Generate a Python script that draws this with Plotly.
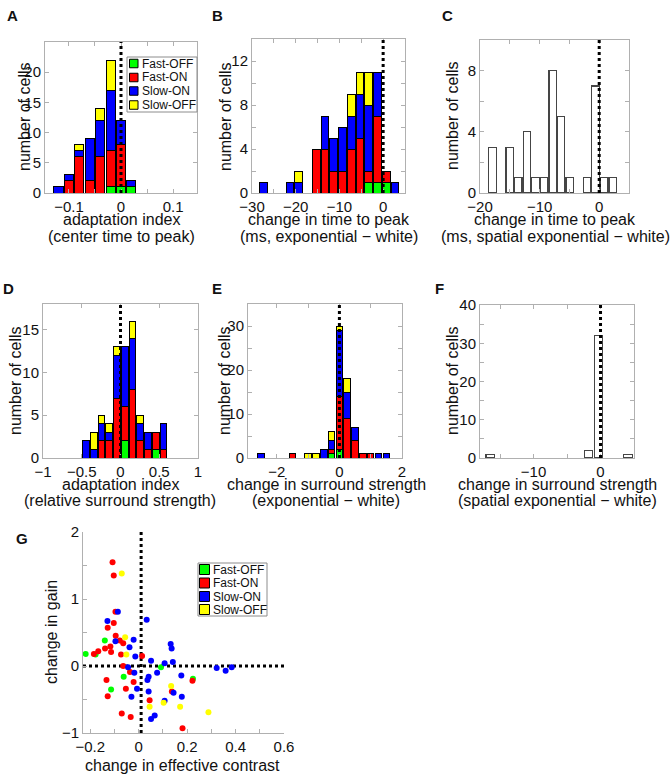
import plotly.graph_objects as go

W, H = 672, 776

# ------------------------- data -------------------------
A_centers = [-0.12, -0.10, -0.08, -0.06, -0.04, -0.02, 0.00, 0.02]
A_fast_off = [0, 0, 0, 0, 0, 1, 1, 1]
A_fast_on = [0, 2, 6, 2, 6, 6, 7, 0]
A_slow_on = [1, 1, 1, 7, 6, 10, 4, 1]
A_slow_off = [0, 0, 1, 0, 2, 5, 0, 0]

B_centers = [-27.3, -21.3, -19.3, -15.3, -13.3, -11.3, -9.3, -7.3, -5.3, -3.3, -1.3, 0.7, 2.7]
B_fast_off = [0, 0, 0, 0, 0, 0, 0, 0, 0, 1, 1, 1, 0]
B_fast_on = [0, 0, 0, 4, 4, 2, 2, 4, 5, 1, 6, 1, 0]
B_slow_on = [1, 1, 1, 0, 3, 3, 4, 3, 4, 6, 4, 0, 1]
B_slow_off = [0, 0, 1, 0, 0, 0, 0, 2, 2, 3, 0, 0, 0]

C_centers = [-17.9, -15.02, -13.58, -12.14, -10.7, -9.26, -7.82, -6.38, -4.94, -2.06, -0.62, 0.82, 2.26]
C_counts = [3, 3, 1, 4, 1, 1, 8, 5, 1, 1, 7, 1, 1]

D_centers = [-0.445, -0.345, -0.245, -0.145, -0.045, 0.055, 0.155, 0.255, 0.355, 0.455, 0.555]
D_fast_off = [0, 0, 0, 0, 0, 2, 0, 0, 0, 1, 0]
D_fast_on = [0, 0, 2, 2, 7, 4, 8, 2, 1, 2, 1]
D_slow_on = [2, 1, 2, 1, 5, 7, 6, 2, 2, 0, 3]
D_slow_off = [0, 2, 1, 1, 1, 0, 2, 1, 0, 0, 0]

E_centers = [-2.5, -1.5, -1.0, -0.75, -0.5, -0.25, 0.0, 0.25, 0.5, 0.75, 1.0, 1.25, 1.5]
E_fast_off = [0, 0, 0, 0, 0, 1, 2, 0, 0, 0, 0, 0, 0]
E_fast_on = [0, 1, 0, 0, 0, 1, 12, 9, 4, 1, 1, 0, 0]
E_slow_on = [1, 0, 0, 0, 2, 2, 15, 6, 3, 0, 0, 1, 1]
E_slow_off = [0, 0, 1, 1, 0, 2, 1, 3, 0, 0, 0, 0, 0]

F_centers = [-16.47, -1.77, -0.3, 4.11]
F_counts = [1, 2, 32, 1]

G_fast_off_x = [-0.219, -0.178, -0.140, -0.114, -0.062, 0.092, 0.224]
G_fast_off_y = [0.18, 0.17, 0.38, -0.35, -0.16, -0.02, -0.19]
G_fast_on_x = [-0.108, -0.103, -0.096, -0.103, -0.128, -0.095, -0.078, -0.064, -0.117, -0.139,
               -0.114, -0.167, -0.185, -0.073, 0.014, -0.064, -0.036, -0.021, -0.133, -0.053,
               -0.128, 0.045, 0.137, 0.222, -0.070, -0.033, 0.181]
G_fast_on_y = [1.55, 1.35, 0.81, 0.64, 0.57, 0.45, 0.38, 0.34, 0.29, 0.26,
               0.21, 0.22, 0.18, 0.17, 0.15, 0.00, -0.09, -0.24, -0.21, -0.34,
               -0.45, -0.51, -0.38, -0.22, -0.71, -0.76, -0.93]
G_slow_on_x = [-0.129, -0.086, -0.096, -0.021, -0.038, -0.014, -0.044, -0.018, 0.033, 0.051,
               0.076, 0.107, 0.132, 0.136, 0.141, 0.176, 0.041, 0.036, 0.041, -0.007,
               -0.030, 0.107, 0.144, 0.178, 0.066, 0.051, 0.322, 0.359, 0.384]
G_slow_on_y = [0.67, 0.81, 0.37, 0.39, 0.28, 0.14, -0.02, -0.10, 0.69, 0.08,
               -0.10, 0.04, 0.33, 0.26, 0.06, -0.14, -0.16, -0.21, -0.38, -0.34,
               -0.46, -0.52, -0.40, -0.46, -0.74, -0.79, -0.03, -0.07, -0.02]
G_slow_off_x = [-0.070, -0.056, -0.051, 0.134, 0.103, 0.045, 0.171, 0.288]
G_slow_off_y = [1.38, 0.43, 0.17, -0.30, -0.55, -0.61, -0.61, -0.69]

GROUPS = ['Fast-OFF', 'Fast-ON', 'Slow-ON', 'Slow-OFF']

# ------------------------- style -------------------------
GREEN, RED, BLUE, YELLOW = '#00ff00', '#ff0000', '#0000ff', '#ffff00'
COLORS = [GREEN, RED, BLUE, YELLOW]
AXC = '#b0b0b0'
FONT = 'Liberation Sans, Arial, sans-serif'
TXT = '#111111'


def xd(p0, p1):
    return [p0 / W, p1 / W]


def yd(top, bottom):
    return [1 - bottom / H, 1 - top / H]


def px(p):
    return p / W


def py(p):
    return 1 - p / H


def xn(i):
    return 'x' if i == 1 else f'x{i}'


def yn(i):
    return 'y' if i == 1 else f'y{i}'


fig = go.Figure()


def nz(vals):
    return [v if v else None for v in vals]


def stacked(idx, centers, series, width):
    for vals, col, name in zip(series, COLORS, GROUPS):
        fig.add_trace(go.Bar(x=centers, y=nz(vals), width=width, name=name,
                             marker=dict(color=col, line=dict(color='black', width=1)),
                             xaxis=xn(idx), yaxis=yn(idx), showlegend=False))


def single(idx, centers, vals, width):
    fig.add_trace(go.Bar(x=centers, y=nz(vals), width=width,
                         marker=dict(color='white', line=dict(color='#454545', width=1.2)),
                         xaxis=xn(idx), yaxis=yn(idx), showlegend=False))


stacked(1, A_centers, [A_fast_off, A_fast_on, A_slow_on, A_slow_off], 0.0175)
stacked(2, B_centers, [B_fast_off, B_fast_on, B_slow_on, B_slow_off], 1.76)
single(3, C_centers, C_counts, 1.24)
stacked(4, D_centers, [D_fast_off, D_fast_on, D_slow_on, D_slow_off], 0.087)
stacked(5, E_centers, [E_fast_off, E_fast_on, E_slow_on, E_slow_off], 0.21)
single(6, F_centers, F_counts, 1.25)

for xs, ys, col, name in zip([G_fast_off_x, G_fast_on_x, G_slow_on_x, G_slow_off_x],
                             [G_fast_off_y, G_fast_on_y, G_slow_on_y, G_slow_off_y],
                             COLORS, GROUPS):
    fig.add_trace(go.Scatter(x=xs, y=ys, mode='markers', name=name,
                             marker=dict(color=col, size=6, line=dict(width=0)),
                             xaxis='x7', yaxis='y7', showlegend=False))


def axis(domain, rng, anchor, tv, tt, mirror=True):
    return dict(domain=domain, range=rng, anchor=anchor, automargin=False,
                showline=True, linecolor=AXC, linewidth=1,
                mirror='ticks' if mirror else False,
                ticks='inside', ticklen=4, tickcolor=AXC, tickwidth=1,
                tickfont=dict(family=FONT, size=15, color=TXT),
                showgrid=False, zeroline=False, fixedrange=True,
                tickmode='array', tickvals=tv, ticktext=tt)


M = '\u2212'
panels = [
    (1, (45, 197), (42, 193), [-0.146, 0.146], [0, 25],
     [-0.1, -0.05, 0, 0.05, 0.1], [M + '0.1', '', '0', '', '0.1'],
     [0, 5, 10, 15, 20], ['0', '5', '10', '15', '20']),
    (2, (252, 405), (39, 193), [-30, 5], [0, 14],
     [-30, -25, -20, -15, -10, -5, 0], [M + '30', '', M + '20', '', M + '10', '', '0'],
     [0, 2, 4, 6, 8, 10, 12], ['0', '', '4', '', '8', '', '12']),
    (3, (480, 629), (40, 193), [-20, 5], [0, 10],
     [-20, -15, -10, -5, 0], [M + '20', '', M + '10', '', '0'],
     [0, 2, 4, 6, 8], ['0', '', '4', '', '8']),
    (4, (43, 198), (304, 458), [-1, 1], [0, 18],
     [-1, -0.5, 0, 0.5, 1], [M + '1', M + '0.5', '0', '0.5', '1'],
     [0, 5, 10, 15], ['0', '5', '10', '15']),
    (5, (248, 402), (304, 458), [-2.92, 2.0], [0, 35],
     [-2, -1, 0, 1, 2], [M + '2', '', '0', '', '2'],
     [0, 5, 10, 15, 20, 25, 30], ['0', '', '10', '', '20', '', '30']),
    (6, (480, 634), (305, 458), [-18, 5], [0, 40],
     [-15, -10, -5, 0], ['', M + '10', '', '0'],
     [0, 5, 10, 15, 20, 25, 30, 35, 40], ['0', '', '10', '', '20', '', '30', '', '40']),
]

layout_axes = {}
shapes = []
for idx, xp, yp, xr, yr, xtv, xtt, ytv, ytt in panels:
    layout_axes['xaxis' if idx == 1 else f'xaxis{idx}'] = axis(xd(*xp), xr, yn(idx), xtv, xtt)
    layout_axes['yaxis' if idx == 1 else f'yaxis{idx}'] = axis(yd(*yp), yr, xn(idx), ytv, ytt)
    shapes.append(dict(type='line', xref=xn(idx), yref=yn(idx) + ' domain', x0=0, x1=0, y0=0, y1=1,
                       line=dict(color='black', width=3, dash='dot'), layer='above'))

# panel G
layout_axes['xaxis7'] = axis(xd(83, 284), [-0.23, 0.6], 'y7',
                             [-0.2, -0.1, 0, 0.1, 0.2, 0.3, 0.4, 0.5, 0.6],
                             [M + '0.2', '', '0', '', '0.2', '', '0.4', '', '0.6'], mirror=False)
layout_axes['yaxis7'] = axis(yd(532, 733), [-1, 2], 'x7',
                             [-1, -0.5, 0, 0.5, 1, 1.5, 2],
                             [M + '1', '', '0', '', '1', '', '2'], mirror=False)
shapes.append(dict(type='line', xref='x7 domain', yref='y7', x0=0, x1=1, y0=0, y1=0,
                   line=dict(color='black', width=3, dash='dot'), layer='below'))
shapes.append(dict(type='line', xref='x7', yref='y7 domain', x0=0.01, x1=0.01, y0=0, y1=1,
                   line=dict(color='black', width=3, dash='dot'), layer='below'))

annotations = []


def text(x, y, s, size=16, bold=False, angle=0, xanchor='center', yanchor='middle'):
    annotations.append(dict(x=px(x), y=py(y), xref='paper', yref='paper',
                            text=('<b>%s</b>' % s) if bold else s,
                            showarrow=False, textangle=angle, xanchor=xanchor, yanchor=yanchor,
                            borderpad=0,
                            font=dict(family=FONT, size=size, color=TXT)))


for letter, x, y in [('A', 12, 15), ('B', 217, 15), ('C', 447, 15), ('D', 8, 288),
                     ('E', 217, 288), ('F', 439, 288), ('G', 22, 538)]:
    text(x, y, letter, size=15, bold=True)

for x, yc in [(24, 117), (225, 116), (452, 116), (15, 381), (224, 381), (452, 381)]:
    text(x, yc, 'number of cells', angle=-90)
text(51, 632, 'change in gain', angle=-90)

xt = [
    (121, 219, 236, 'adaptation index', '(center time to peak)'),
    (329, 219, 236, 'change in time to peak', '(ms, exponential ' + M + ' white)'),
    (555, 219, 236, 'change in time to peak', '(ms, spatial exponential ' + M + ' white)'),
    (120, 484, 500, 'adaptation index', '(relative surround strength)'),
    (326, 484, 500, 'change in surround strength', '(exponential ' + M + ' white)'),
    (557, 484, 500, 'change in surround strength', '(spatial exponential ' + M + ' white)'),
]
for x, y1, y2, l1, l2 in xt:
    text(x, y1, l1)
    text(x, y2, l2)
text(183, 765, 'change in effective contrast')


def legend(x0, y0, x1, y1, rows, sw, sx, tx):
    shapes.append(dict(type='rect', xref='paper', yref='paper', x0=px(x0), x1=px(x1), y0=py(y1), y1=py(y0),
                       fillcolor='white', line=dict(color='#8c8c8c', width=1), layer='above'))
    for (yc, name), col in zip(rows, COLORS):
        shapes.append(dict(type='rect', xref='paper', yref='paper', x0=px(sx), x1=px(sx + sw),
                           y0=py(yc + sw / 2), y1=py(yc - sw / 2), fillcolor=col,
                           line=dict(color='black', width=1), layer='above'))
        text(tx, yc, name, size=12, xanchor='left')


legend(127, 57, 197, 112, list(zip([63.5, 77.5, 91, 105], GROUPS)), 8.5, 129.5, 140.5)
legend(198, 563, 267, 616, list(zip([569.5, 583, 596.5, 609.5], GROUPS)), 10, 199.5, 212)

fig.update_layout(width=W, height=H, margin=dict(l=0, r=0, t=0, b=0, autoexpand=False),
                  paper_bgcolor='white', plot_bgcolor='white', barmode='stack',
                  showlegend=False, shapes=shapes, annotations=annotations,
                  font=dict(family=FONT, color=TXT), **layout_axes)

fig.write_html('out.html', config={'displayModeBar': False},
               post_script="document.body.style.margin='0px';document.body.style.overflow='hidden';")
